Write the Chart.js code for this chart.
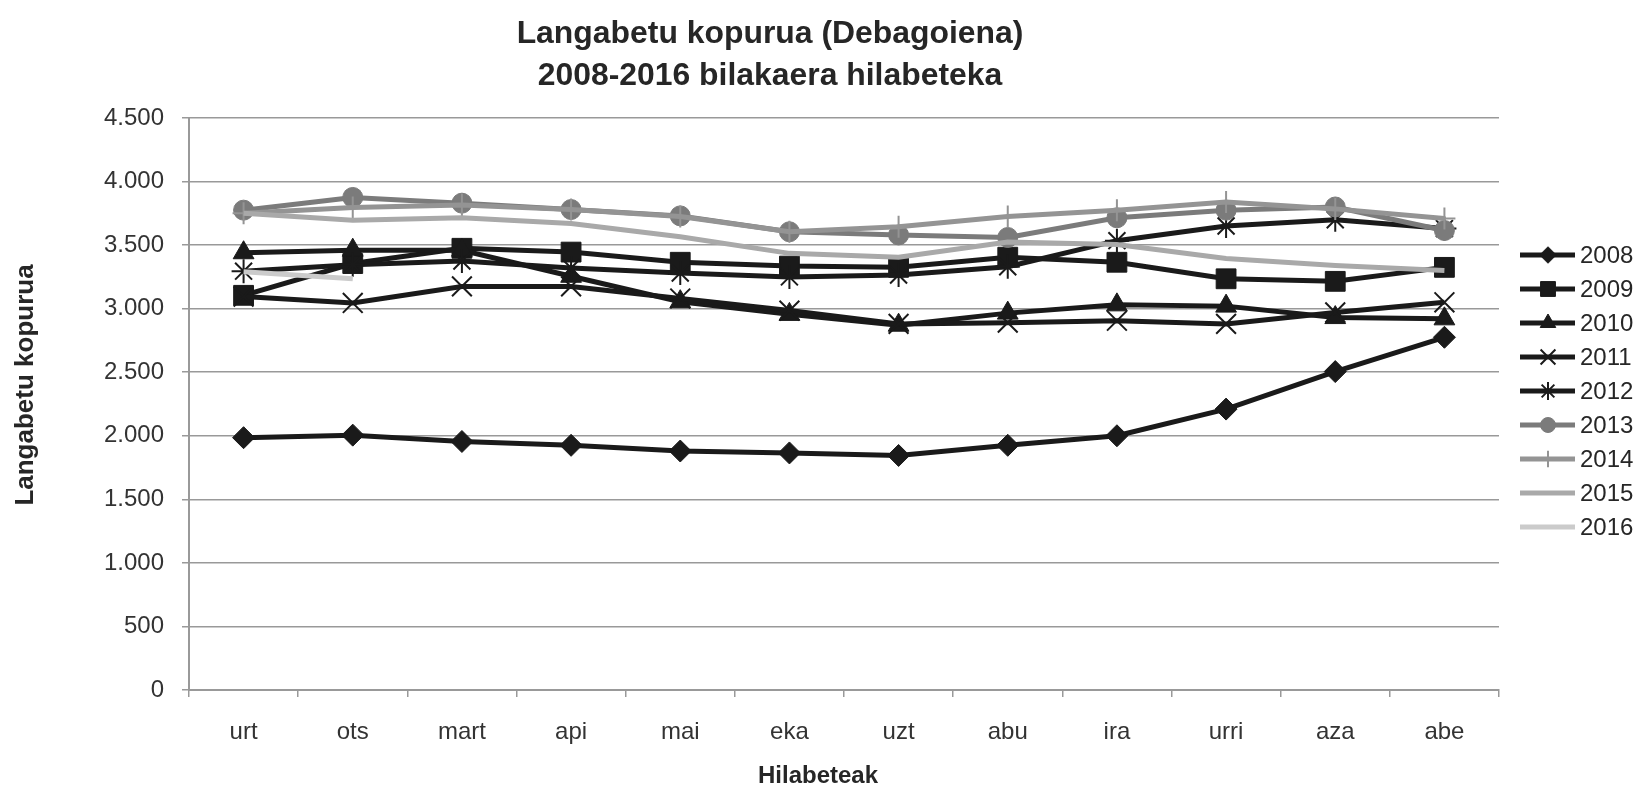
<!DOCTYPE html>
<html>
<head>
<meta charset="utf-8">
<title>Langabetu kopurua (Debagoiena)</title>
<script src="https://cdn.jsdelivr.net/npm/chart.js@4.4.1/dist/chart.umd.min.js"></script>
<style>
  html, body { margin: 0; padding: 0; background: #fff; }
  canvas { display: block; }
</style>
</head>
<body>
<canvas id="chart" width="1644" height="789"></canvas>
<script>
// hilabeteak
const months = ['urt', 'ots', 'mart', 'api', 'mai', 'eka', 'uzt', 'abu', 'ira', 'urri', 'aza', 'abe'];

// langabetu kopurua urteka (irudiatik irakurrita)
const y2008 = [1985, 2005, 1955, 1925, 1880, 1865, 1845, 1925, 2000, 2210, 2505, 2775];
const y2009 = [3105, 3355, 3475, 3445, 3365, 3335, 3325, 3405, 3365, 3235, 3215, 3325];
const y2010 = [3440, 3460, 3460, 3255, 3055, 2955, 2870, 2965, 3030, 3020, 2930, 2920];
const y2011 = [3095, 3045, 3175, 3175, 3080, 2985, 2880, 2890, 2905, 2880, 2970, 3050];
const y2012 = [3295, 3345, 3375, 3320, 3280, 3250, 3265, 3330, 3535, 3650, 3700, 3630];
const y2013 = [3775, 3875, 3830, 3780, 3730, 3605, 3580, 3560, 3715, 3775, 3800, 3615];
const y2014 = [3750, 3795, 3815, 3780, 3725, 3605, 3645, 3725, 3775, 3840, 3785, 3710];
const y2015 = [3750, 3695, 3715, 3670, 3565, 3435, 3405, 3525, 3505, 3395, 3340, 3300];
const y2016 = [3290, 3235, null, null, null, null, null, null, null, null, null, null];

const years = ['2008', '2009', '2010', '2011', '2012', '2013', '2014', '2015', '2016'];
const values = [y2008, y2009, y2010, y2011, y2012, y2013, y2014, y2015, y2016];

// estiloak
const colors = ['#1a1a1a', '#1a1a1a', '#1a1a1a', '#1a1a1a', '#1a1a1a', '#7b7b7b', '#949494', '#a9a9a9', '#cbcbcb'];
const markers = ['rectRot', 'rect', 'triangle', 'crossRot', 'star', 'circle', 'cross', false, false];
const radii = [11, 14, 12, 14, 12, 10, 11, 0, 0];

const titleLines = ['Langabetu kopurua (Debagoiena)', '2008-2016 bilakaera hilabeteka'];
const yTitle = 'Langabetu kopurua';
const xTitle = 'Hilabeteak';
const FONT = '"Liberation Sans", Arial, sans-serif';

// izenburuarentzat letra estua, baldin badago
function hasFont(name) {
    const c = document.createElement('canvas').getContext('2d');
    c.font = '40px monospace';
    const a = c.measureText(titleLines[0]).width;
    c.font = '40px "' + name + '", monospace';
    return c.measureText(titleLines[0]).width !== a;
}
const TITLE_FONT = hasFont('Liberation Sans Narrow') ? '"Liberation Sans Narrow", ' + FONT : FONT;

const datasets = years.map((yr, i) => ({
    label: yr,
    data: values[i],
    borderColor: colors[i],
    backgroundColor: colors[i],
    borderWidth: 5,
    pointStyle: markers[i],
    pointRadius: radii[i],
    pointHoverRadius: radii[i],
    pointBorderWidth: (markers[i] === 'crossRot' || markers[i] === 'star' || markers[i] === 'cross') ? 2 : 1,
    tension: 0,
    spanGaps: false,
    order: years.length - 1 - i   // azken urteak gainean
}));

// izenburuak eta legenda
const extrasPlugin = {
    id: 'extras',
    afterDraw(chart) {
        const ctx = chart.ctx;
        ctx.save();
        ctx.fillStyle = '#262626';
        ctx.textAlign = 'center';
        ctx.textBaseline = 'middle';

        // goiko izenburua, zabalera 507px ingurura egokituta
        ctx.font = 'bold 40px ' + TITLE_FONT;
        let size = Math.min(42, 40 * 507 / ctx.measureText(titleLines[0]).width);
        ctx.font = 'bold ' + size.toFixed(1) + 'px ' + TITLE_FONT;
        ctx.fillText(titleLines[0], 770, 34);
        ctx.fillText(titleLines[1], 770, 76);

        ctx.font = 'bold 24px ' + FONT;
        ctx.fillText(xTitle, 818, 776);

        ctx.save();
        ctx.translate(26, 385);
        ctx.rotate(-Math.PI / 2);
        ctx.font = 'bold 26px ' + FONT;
        ctx.fillText(yTitle, 0, 0);
        ctx.restore();

        // legenda
        ctx.textAlign = 'left';
        ctx.font = '24px ' + FONT;
        chart.data.datasets.forEach((ds, i) => {
            const y = 255 + i * 34;
            ctx.strokeStyle = ds.borderColor;
            ctx.lineWidth = 5;
            ctx.beginPath();
            ctx.moveTo(1520, y);
            ctx.lineTo(1575, y);
            ctx.stroke();
            if (ds.pointStyle) {
                ctx.fillStyle = ds.backgroundColor;
                ctx.strokeStyle = ds.borderColor;
                ctx.lineWidth = ds.pointBorderWidth;
                Chart.helpers.drawPoint(ctx, {
                    pointStyle: ds.pointStyle,
                    radius: ds.pointRadius * 0.75,
                    borderWidth: ds.pointBorderWidth,
                    rotation: 0
                }, 1548, y);
            }
            ctx.fillStyle = '#262626';
            ctx.fillText(ds.label, 1580, y + 1);
        });
        ctx.restore();
    }
};

const chart = new Chart(document.getElementById('chart'), {
    type: 'line',
    data: { labels: months, datasets: datasets },
    options: {
        responsive: false,
        animation: false,
        layout: { padding: { left: 0, right: 145, top: 118, bottom: 0 } },
        plugins: {
            legend: { display: false },
            title: { display: false },
            tooltip: { enabled: false }
        },
        scales: {
            x: {
                offset: true,
                grid: {
                    offset: true,
                    drawOnChartArea: false,
                    color: '#999999',
                    lineWidth: 1.5,
                    tickLength: 7
                },
                border: { color: '#999999', width: 2 },
                ticks: { color: '#333333', font: { family: FONT, size: 24 }, padding: 21 },
                afterFit(scale) { scale.height = 99; }
            },
            y: {
                min: 0,
                max: 4500,
                grid: { color: '#999999', lineWidth: 1.5, tickLength: 7 },
                border: { color: '#999999', width: 2 },
                ticks: {
                    stepSize: 500,
                    color: '#333333',
                    font: { family: FONT, size: 24 },
                    padding: 18,
                    callback: v => v.toString().replace(/\B(?=(\d{3})+(?!\d))/g, '.')
                },
                afterFit(scale) { scale.width = 189; }
            }
        }
    },
    plugins: [extrasPlugin]
});
</script>
</body>
</html>
